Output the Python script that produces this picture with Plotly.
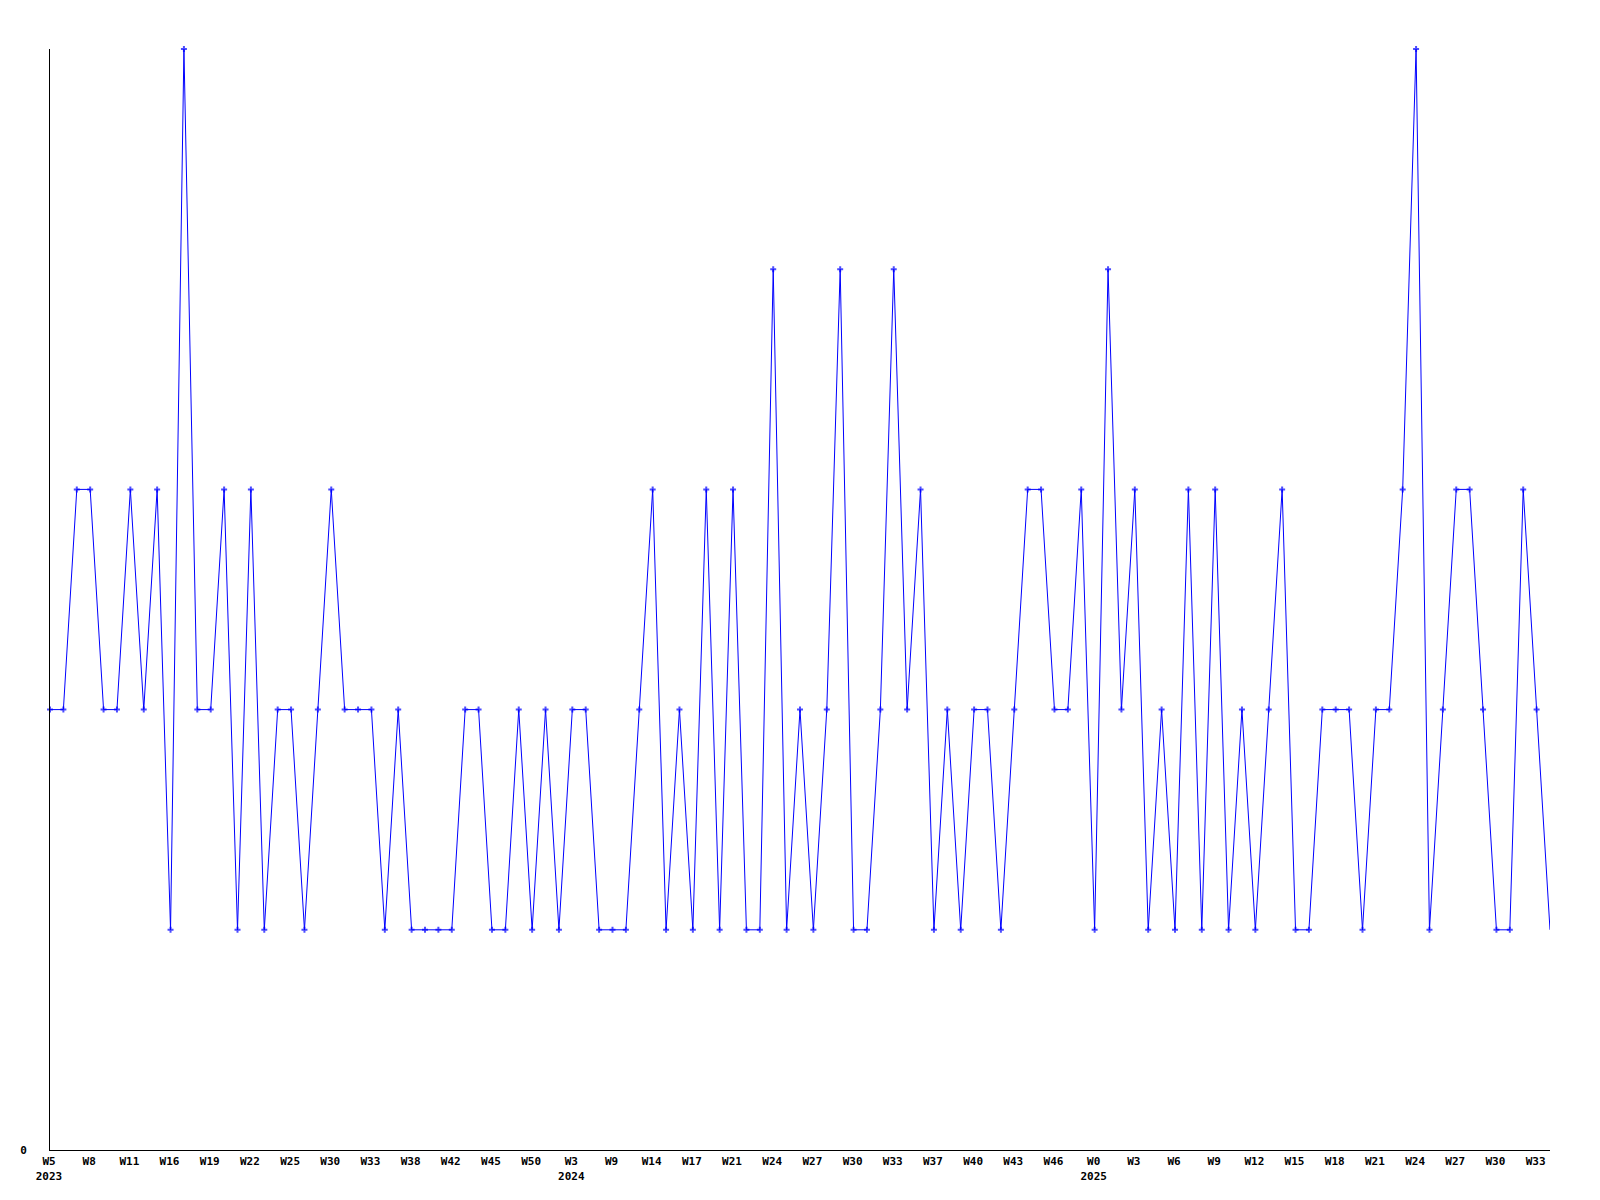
import plotly.graph_objects as go

values = [
    2, 2, 3, 3, 2, 2, 3, 2, 3, 1,
    5, 2, 2, 3, 1, 3, 1, 2, 2, 1,
    2, 3, 2, 2, 2, 1, 2, 1, 1, 1,
    1, 2, 2, 1, 1, 2, 1, 2, 1, 2,
    2, 1, 1, 1, 2, 3, 1, 2, 1, 3,
    1, 3, 1, 1, 4, 1, 2, 1, 2, 4,
    1, 1, 2, 4, 2, 3, 1, 2, 1, 2,
    2, 1, 2, 3, 3, 2, 2, 3, 1, 4,
    2, 3, 1, 2, 1, 3, 1, 3, 1, 2,
    1, 2, 3, 1, 1, 2, 2, 2, 1, 2,
    2, 3, 5, 1, 2, 3, 3, 2, 1, 1,
    3, 2, 1,
]

tick_labels = [
    "W5<br>2023", "W8", "W11", "W16", "W19", "W22", "W25", "W30", "W33", "W38",
    "W42", "W45", "W50", "W3<br>2024", "W9", "W14", "W17", "W21", "W24", "W27",
    "W30", "W33", "W37", "W40", "W43", "W46", "W0<br>2025", "W3", "W6", "W9",
    "W12", "W15", "W18", "W21", "W24", "W27", "W30", "W33",
]
tick_step = 3

x = list(range(len(values)))
tickvals = [i * tick_step for i in range(len(tick_labels))]
# the final point sits on the plot edge, where the reference shows no marker
marker_sizes = [5] * (len(values) - 1) + [0]

fig = go.Figure()
fig.add_trace(go.Scatter(
    x=x, y=values, mode="lines+markers",
    line=dict(color="#0000ff", width=1),
    marker=dict(symbol="cross", size=marker_sizes, color="#0000ff", line=dict(width=0)),
    cliponaxis=False, showlegend=False, hoverinfo="skip",
))

fig.update_layout(
    width=1600, height=1200,
    margin=dict(l=42, r=58, t=41, b=58),
    plot_bgcolor="white", paper_bgcolor="white",
    font=dict(family="DejaVu Sans Mono", size=11, color="black", weight="bold"),
)
fig.update_xaxes(
    range=[0, len(values) - 1], showgrid=False, zeroline=False,
    showline=True, linecolor="black", linewidth=1,
    tickmode="array", tickvals=tickvals, ticktext=tick_labels,
    ticks="", ticklabelstandoff=1, ticklabelshift=-1, tickangle=0,
)
fig.update_yaxes(
    range=[0, 5], showgrid=False, zeroline=False,
    showline=True, linecolor="black", linewidth=1,
    tickmode="array", tickvals=[0], ticktext=["0"],
    ticks="", ticklabelstandoff=20,
)

fig.write_html("out.html")
